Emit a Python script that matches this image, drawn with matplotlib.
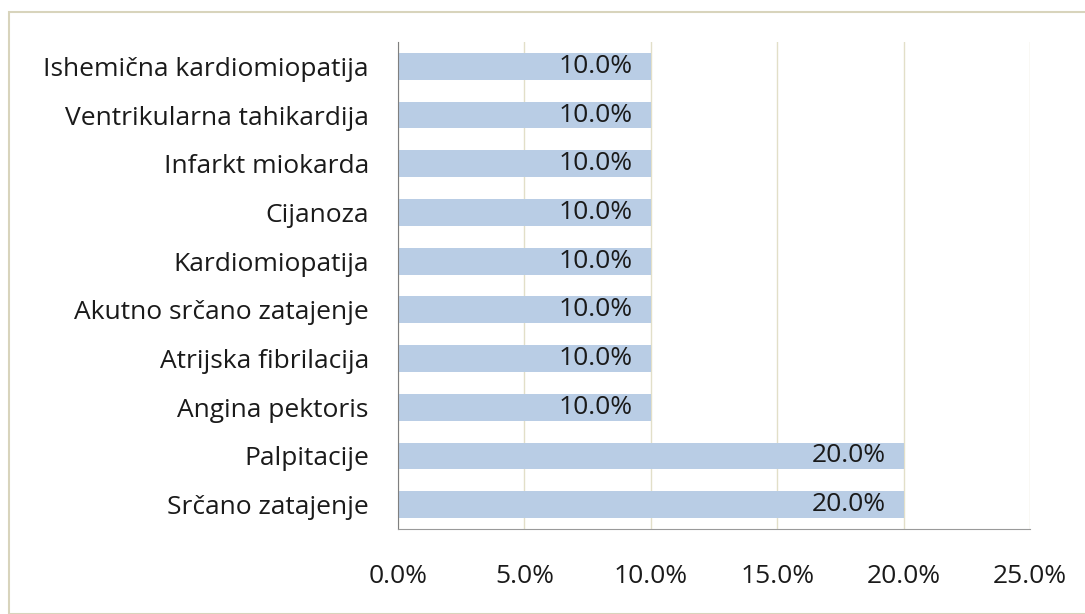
import matplotlib.pyplot as plt
from matplotlib.patches import Rectangle
from matplotlib.ticker import FuncFormatter

categories = ['Srčano zatajenje', 'Palpitacije', 'Angina pektoris',
              'Atrijska fibrilacija', 'Akutno srčano zatajenje', 'Kardiomiopatija',
              'Cijanoza', 'Infarkt miokarda', 'Ventrikularna tahikardija',
              'Ishemična kardiomiopatija']
values = [20.0, 20.0, 10.0, 10.0, 10.0, 10.0, 10.0, 10.0, 10.0, 10.0]
xticks = [0, 5, 10, 15, 20, 25]

plt.rcParams['font.family'] = ['Open Sans', 'DejaVu Sans']

W, H = 1085, 614
fig = plt.figure(figsize=(W / 100, H / 100), dpi=100)
# outer chart border
fig.patches.append(Rectangle((9 / W, 0), 1.2, 1 - 12 / H, transform=fig.transFigure,
                             fill=False, edgecolor='#d8d4bc', linewidth=1.5))

ax = fig.add_axes([398 / W, 1 - 529 / H, (1030 - 398) / W, (529 - 42) / H])
pos = range(len(categories))
bars = ax.barh(pos, values, height=0.55, color='#b9cde5', zorder=2)
for b, v in zip(bars, values):
    ax.annotate(f'{v:.1f}%', (b.get_width(), b.get_y() + b.get_height() / 2),
                xytext=(-13, 0), textcoords='offset points', ha='right', va='center',
                fontsize=19, color='#1a1a1a')

ax.set_xlim(0, 25)
ax.set_ylim(-0.5, len(categories) - 0.5)
ax.set_xticks(xticks)
ax.xaxis.set_major_formatter(FuncFormatter(lambda x, p: f'{x:.1f}%'))
ax.set_yticks(list(pos))
ax.set_yticklabels(categories)
ax.tick_params(axis='x', length=0, pad=25, labelsize=19, colors='#1a1a1a')
ax.tick_params(axis='y', length=0, pad=21, labelsize=19, colors='#1a1a1a')
ax.grid(axis='x', color='#e2dfc8', linewidth=1, zorder=0)
for s in ['top', 'right']:
    ax.spines[s].set_visible(False)
ax.spines['left'].set_color('#7f7f7f')
ax.spines['bottom'].set_color('#9a9a9a')

fig.savefig('out.png', dpi=100)
